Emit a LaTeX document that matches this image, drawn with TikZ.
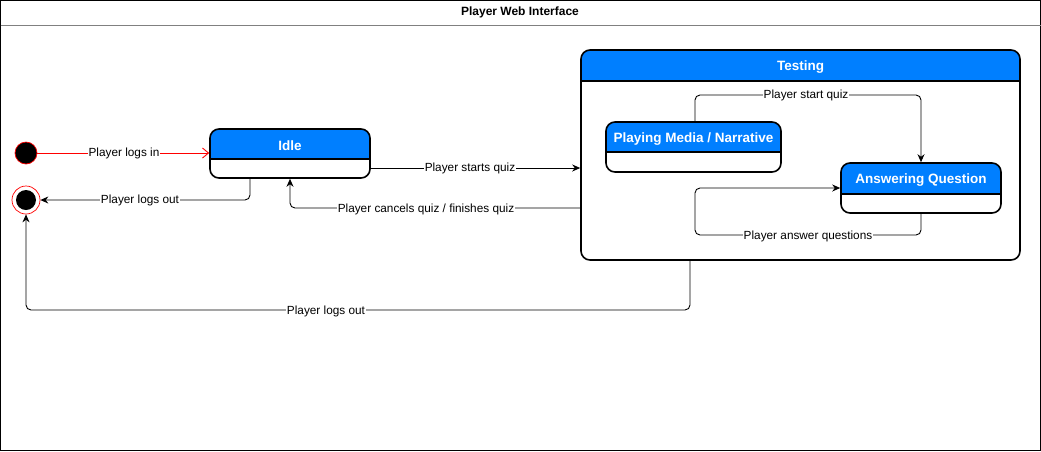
\documentclass[tikz,border=0pt]{standalone}
\usepackage{fontspec}
\setmainfont{Liberation Sans}
\usetikzlibrary{arrows.meta,fit,calc}
\definecolor{hdr}{RGB}{0,127,255}
\tikzset{
  frame/.style={draw, line width=1.6pt, rounded corners=9pt, inner sep=0pt},
  sttext/.style={text=white, font=\fontsize{13.5}{16}\selectfont\bfseries, inner sep=0pt, yshift=-2pt},
  edge/.style={draw, line width=0.9pt, -{Stealth[length=8pt,width=7pt]}, rounded corners=5pt},
  lbl/.style={fill=white, inner sep=1pt, font=\fontsize{11.8}{14}\selectfont},
}
\newcommand\stbox[7]{%
  \begin{scope}
    \clip[rounded corners=9pt] (#2,#3) rectangle (#4,#5);
    \fill[hdr] (#2,#3) rectangle (#4,#6);
    \fill[white] (#2,#6) rectangle (#4,#5);
  \end{scope}
  \draw[line width=1.6pt] (#2,#6) -- (#4,#6);
  \node[frame, fit={(#2,#3) (#4,#5)}] (#1) {};
  \node[sttext] (#1-t) at ($(#2,#3)!0.5!(#4,#6)$) {#7};
}
\begin{document}
\begin{tikzpicture}[x=1pt,y=-1pt]
\useasboundingbox (0,0) rectangle (1041,451);
\node[draw, line width=0.8pt, fit={(0.5,0.5) (1040.5,450.5)}, inner sep=0pt] (outer) {};
\draw[gray, line width=0.8pt] (0.5,25) -- (1040.5,25);
\node[font=\fontsize{12}{14}\selectfont\bfseries] (title) at (520,12.5) {Player Web Interface};

% initial and final states
\node[circle, fill=black, draw=red, line width=0.7pt, minimum size=22pt, inner sep=0pt] (init) at (26,153) {};
\node[circle, draw=red, line width=0.7pt, minimum size=28pt, inner sep=0pt] (fin) at (26,200) {};
\node[circle, fill=black, minimum size=20pt, inner sep=0pt] (finin) at (26,200) {};

\stbox{idle}{210}{129}{370}{178}{159}{Idle}
\stbox{test}{581}{50}{1020}{260}{81}{Testing}
\stbox{play}{606}{122}{781}{172}{152}{Playing Media / Narrative}
\stbox{ans}{841}{163}{1001}{213}{194}{Answering Question}

% edges
\draw[red, line width=0.9pt, -{Straight Barb[length=6pt,width=10pt]}] (init.east) -- (init -| idle.west);
\draw[edge] (idle.south -| 250,0) |- (fin.east);
\draw[edge] (idle.east |- 0,168) -- (test.west |- 0,168);
\draw[edge] (test.west |- 0,208) -| (idle.south -| 290,0);
\draw[edge] (test.south -| 690,0) |- (26,310) -- (fin.south);
\draw[edge] (play.north -| 695,0) |- (921,95) -- (ans.north -| 921,0);
\draw[edge] (ans.south -| 921,0) |- (695,235) |- (ans.west);

% labels
\node[lbl] (l1) at (124,153) {Player logs in};
\node[lbl] (l2) at (140,200) {Player logs out};
\node[lbl] (l3) at (470,168) {Player starts quiz};
\node[lbl] (l4) at (426,209) {Player cancels quiz / finishes quiz};
\node[lbl] (l5) at (326,311) {Player logs out};
\node[lbl] (l6) at (806,95) {Player start quiz};
\node[lbl] (l7) at (808,236) {Player answer questions};
\end{tikzpicture}
\end{document}
